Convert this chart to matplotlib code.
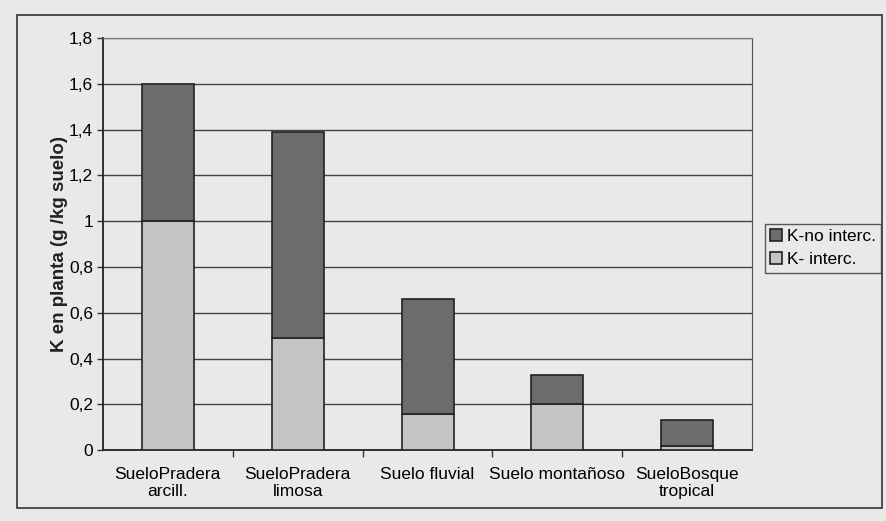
import matplotlib.pyplot as plt
from matplotlib.patches import Rectangle

plt.rcParams['font.family'] = ['Liberation Sans', 'DejaVu Sans']

# contenido de K por tipo de suelo (g/kg suelo)
suelos = ['SueloPradera\narcill.', 'SueloPradera\nlimosa', 'Suelo fluvial',
          'Suelo montañoso', 'SueloBosque\ntropical']
k_interc = [1.0, 0.49, 0.16, 0.20, 0.02]
k_no_interc = [0.60, 0.90, 0.50, 0.13, 0.11]
yticks = [0, 0.2, 0.4, 0.6, 0.8, 1.0, 1.2, 1.4, 1.6, 1.8]
ytick_labels = ['0', '0,2', '0,4', '0,6', '0,8', '1', '1,2', '1,4', '1,6', '1,8']

papel = '#e9e9e7'
fig = plt.figure(figsize=(8.87, 5.21), dpi=100, facecolor=papel)
ax = fig.add_axes([0.116, 0.136, 0.732, 0.791])
ax.set_facecolor(papel)

x = range(len(suelos))
ax.bar(x, k_interc, width=0.4, color='#c4c4c2', edgecolor='#222222',
       linewidth=1.2, label='K- interc.', zorder=3)
ax.bar(x, k_no_interc, width=0.4, bottom=k_interc, color='#6c6c6a',
       edgecolor='#222222', linewidth=1.2, label='K-no interc.', zorder=3)

ax.set_xlim(-0.5, len(suelos) - 0.5)
ax.set_ylim(0, 1.8)
ax.set_yticks(yticks)
ax.set_yticklabels(ytick_labels, fontsize=12.5)
ax.set_xticks(x)
ax.set_xticklabels(suelos, fontsize=12.5)
ax.tick_params(axis='x', length=0, pad=12)
ax.tick_params(axis='y', length=4, width=1, color='#333333', pad=3)
# marcas de separación entre categorías
ax.set_xticks([i + 0.5 for i in range(len(suelos) - 1)], minor=True)
ax.tick_params(axis='x', which='minor', length=5, width=1, color='#333333')

ax.grid(axis='y', color='#444444', linewidth=1.0, zorder=0)
for lado in ['left', 'bottom']:
    ax.spines[lado].set_linewidth(1.3)
    ax.spines[lado].set_color('#222222')
ax.spines['top'].set_linestyle((0, (2, 1)))
ax.spines['top'].set_color('#777777')
ax.spines['right'].set_color('#555555')

ax.set_ylabel('K en planta (g /kg suelo)', fontsize=13.5, fontweight='bold',
              color='#222222', labelpad=1)

handles, labels = ax.get_legend_handles_labels()
leg = fig.legend(handles[::-1], labels[::-1], loc='upper left',
                 bbox_to_anchor=(0.862, 0.57), fontsize=12.5, frameon=True,
                 fancybox=False, edgecolor='#333333', facecolor=papel,
                 handlelength=0.7, handleheight=0.7, handletextpad=0.3,
                 borderpad=0.3, labelspacing=0.45, borderaxespad=0)
leg.get_frame().set_linewidth(1.0)

# recuadro exterior del gráfico
fig.patches.append(Rectangle((0.019, 0.025), 0.975, 0.946, transform=fig.transFigure,
                             fill=False, edgecolor='#333333', linewidth=1.2))

fig.savefig('out.png', dpi=100, facecolor=papel)
